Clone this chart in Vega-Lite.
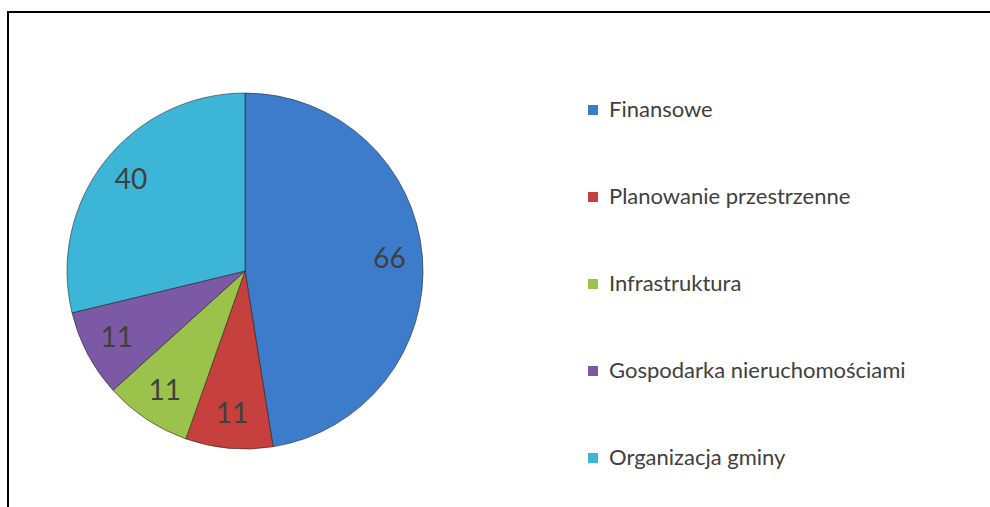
{
  "$schema": "https://vega.github.io/schema/vega-lite/v6.json",
  "autosize": {"type": "fit", "contains": "padding"},
  "width": 990,
  "height": 507,
  "padding": {"left": 8, "top": 12, "right": -6, "bottom": -6},
  "background": "white",
  "config": {
    "view": {"stroke": "black", "strokeWidth": 2},
    "font": "Lato"
  },
  "data": {
    "values": [
      {"kategoria": "Finansowe", "liczba": 66, "o": 1},
      {"kategoria": "Planowanie przestrzenne", "liczba": 11, "o": 2},
      {"kategoria": "Infrastruktura", "liczba": 11, "o": 3},
      {"kategoria": "Gospodarka nieruchomościami", "liczba": 11, "o": 4},
      {"kategoria": "Organizacja gminy", "liczba": 40, "o": 5}
    ]
  },
  "encoding": {
    "theta": {"field": "liczba", "type": "quantitative", "stack": true},
    "order": {"field": "o", "type": "quantitative"},
    "x": {"datum": 0.2399, "type": "quantitative", "scale": {"domain": [0, 1]}, "axis": null},
    "y": {"datum": 0.517, "type": "quantitative", "scale": {"domain": [0, 1], "reverse": true}, "axis": null}
  },
  "layer": [
    {
      "mark": {"type": "arc", "outerRadius": 178, "stroke": "#1e1e1e", "strokeOpacity": 0.55, "strokeWidth": 1},
      "encoding": {
        "color": {
          "field": "kategoria",
          "type": "nominal",
          "sort": ["Finansowe", "Planowanie przestrzenne", "Infrastruktura", "Gospodarka nieruchomościami", "Organizacja gminy"],
          "scale": {
            "domain": ["Finansowe", "Planowanie przestrzenne", "Infrastruktura", "Gospodarka nieruchomościami", "Organizacja gminy"],
            "range": ["#3D7CCB", "#C6403D", "#9BC24A", "#7B59A5", "#3DB5D6"]
          },
          "legend": {
            "title": null,
            "orient": "none",
            "legendX": 574,
            "legendY": 87,
            "padding": 0,
            "symbolType": "square",
            "symbolSize": 100,
            "symbolStrokeWidth": 0,
            "labelFont": "Lato",
            "labelFontSize": 22,
            "labelColor": "#404040",
            "labelOffset": 5,
            "rowPadding": 65,
            "labelLimit": 400
          }
        }
      }
    },
    {
      "mark": {"type": "text", "radius": 145, "font": "Lato", "fontSize": 28, "color": "#404040"},
      "encoding": {
        "text": {"field": "liczba", "type": "quantitative"}
      }
    }
  ]
}
